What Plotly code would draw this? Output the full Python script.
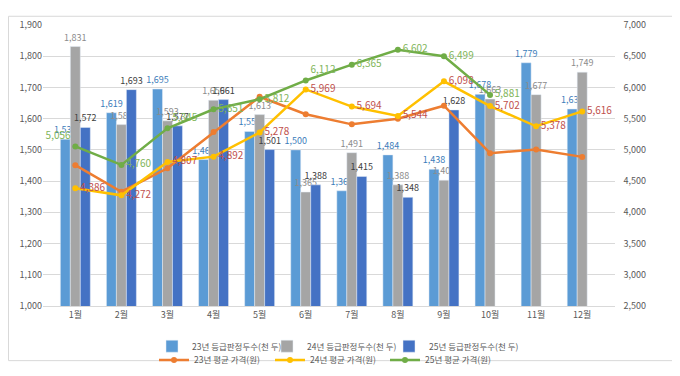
import plotly.graph_objects as go
from plotly.subplots import make_subplots

months = ["1월", "2월", "3월", "4월", "5월", "6월", "7월", "8월", "9월", "10월", "11월", "12월"]
heads_23 = [1534, 1619, 1695, 1469, 1559, 1500, 1369, 1484, 1438, 1678, 1779, 1631]
heads_24 = [1831, 1581, 1593, 1659, 1613, 1365, 1491, 1388, 1403, 1663, 1677, 1749]
heads_25 = [1572, 1693, 1577, 1661, 1501, 1388, 1415, 1348, 1628, None, None, None]
price_23 = [4756, 4330, 4705, 5285, 5851, 5571, 5409, 5498, 5708, 4947, 5006, 4888]
price_24 = [4386, 4272, 4807, 4892, 5278, 5969, 5694, 5544, 6098, 5702, 5378, 5616]
price_25 = [5056, 4760, 5345, 5651, 5812, 6112, 6365, 6602, 6499, 5881, None, None]

FONT = "Noto Sans CJK KR"
fig = make_subplots(specs=[[{"secondary_y": True}]])

bar_specs = [
    ("23년 등급판정두수(천 두)", heads_23, "#5B9BD5", "#3C7DBA", "legend"),
    ("24년 등급판정두수(천 두)", heads_24, "#A5A5A5", "#8C8C8C", "legend2"),
    ("25년 등급판정두수(천 두)", heads_25, "#4472C4", "#404040", "legend3"),
]
for name, vals, col, tcol, lg in bar_specs:
    fig.add_trace(go.Bar(
        x=months, y=vals, name=name, marker_color=col,
        texttemplate="%{y:,}", textposition="outside", constraintext="none",
        textfont=dict(size=9, color=tcol, family=FONT), cliponaxis=False,
        legend=lg), secondary_y=False)

fig.add_trace(go.Scatter(
    x=months, y=price_23, name="23년 평균 가격(원)", mode="lines+markers",
    line=dict(color="#ED7D31", width=2.5), marker=dict(size=6, color="#ED7D31"),
    legend="legend4", cliponaxis=False), secondary_y=True)

fig.add_trace(go.Scatter(
    x=months, y=price_24, name="24년 평균 가격(원)", mode="lines+markers+text",
    line=dict(color="#FFC000", width=2.5), marker=dict(size=6, color="#FFC000"),
    texttemplate="%{y:,}", textposition="middle right",
    textfont=dict(size=10, color="#C0504D", family=FONT),
    legend="legend5", cliponaxis=False), secondary_y=True)

g_pos = ["top left", "middle right", "top right", "middle right", "middle right", "top right",
         "middle right", "middle right", "middle right", "middle right", "middle right", "middle right"]
fig.add_trace(go.Scatter(
    x=months, y=price_25, name="25년 평균 가격(원)", mode="lines+markers+text",
    line=dict(color="#70AD47", width=2.5), marker=dict(size=6, color="#70AD47"),
    texttemplate="%{y:,}", textposition=g_pos,
    textfont=dict(size=10, color="#7FB55A", family=FONT),
    legend="legend6", cliponaxis=False), secondary_y=True)

L, R, T, B = 35, 37, 10, 60
PW, PH = 680 - L - R, 376 - T - B


def px_x(p):
    return (p - L) / PW


def px_y(p):
    return 1 - (p - T) / PH


legend_cfg = {}
names = ["legend", "legend2", "legend3", "legend4", "legend5", "legend6"]
xs = [144, 259, 381, 146, 262, 377]
ys = [344, 344, 344, 359, 359, 359]
for n, xp, yp in zip(names, xs, ys):
    legend_cfg[n] = dict(orientation="h", x=px_x(xp), xanchor="left", y=px_y(yp), yanchor="top",
                         font=dict(size=8.5, color="#595959"), itemwidth=30,
                         bgcolor="rgba(0,0,0,0)")

fig.update_layout(
    width=680, height=376,
    margin=dict(l=L, r=R, t=T, b=B),
    paper_bgcolor="white", plot_bgcolor="white",
    barmode="group", bargap=0.35, bargroupgap=0,
    font=dict(family=FONT, size=9, color="#595959"),
    showlegend=True,
    shapes=[dict(type="rect", xref="paper", yref="paper",
                 x0=(0.5 - L) / PW, x1=(679.5 - L) / PW,
                 y0=-(375.5 - 316) / PH, y1=1 + (10 - 0.5) / PH,
                 line=dict(color="#D9D9D9", width=1), layer="below")],
    **legend_cfg,
)
fig.update_xaxes(showgrid=False, showline=True, linecolor="#D9D9D9", ticks="",
                 tickfont=dict(size=9, color="#595959"))
fig.update_yaxes(range=[1000, 1900], dtick=100, tickformat=",", showgrid=True,
                 gridcolor="#D9D9D9", zeroline=False, ticks="",
                 tickfont=dict(size=9, color="#595959"), secondary_y=False)
fig.update_yaxes(range=[2500, 7000], dtick=500, tickformat=",", showgrid=False,
                 zeroline=False, ticks="", ticklabelstandoff=8,
                 tickfont=dict(size=9, color="#595959"), secondary_y=True)

fig.write_html("out.html")
